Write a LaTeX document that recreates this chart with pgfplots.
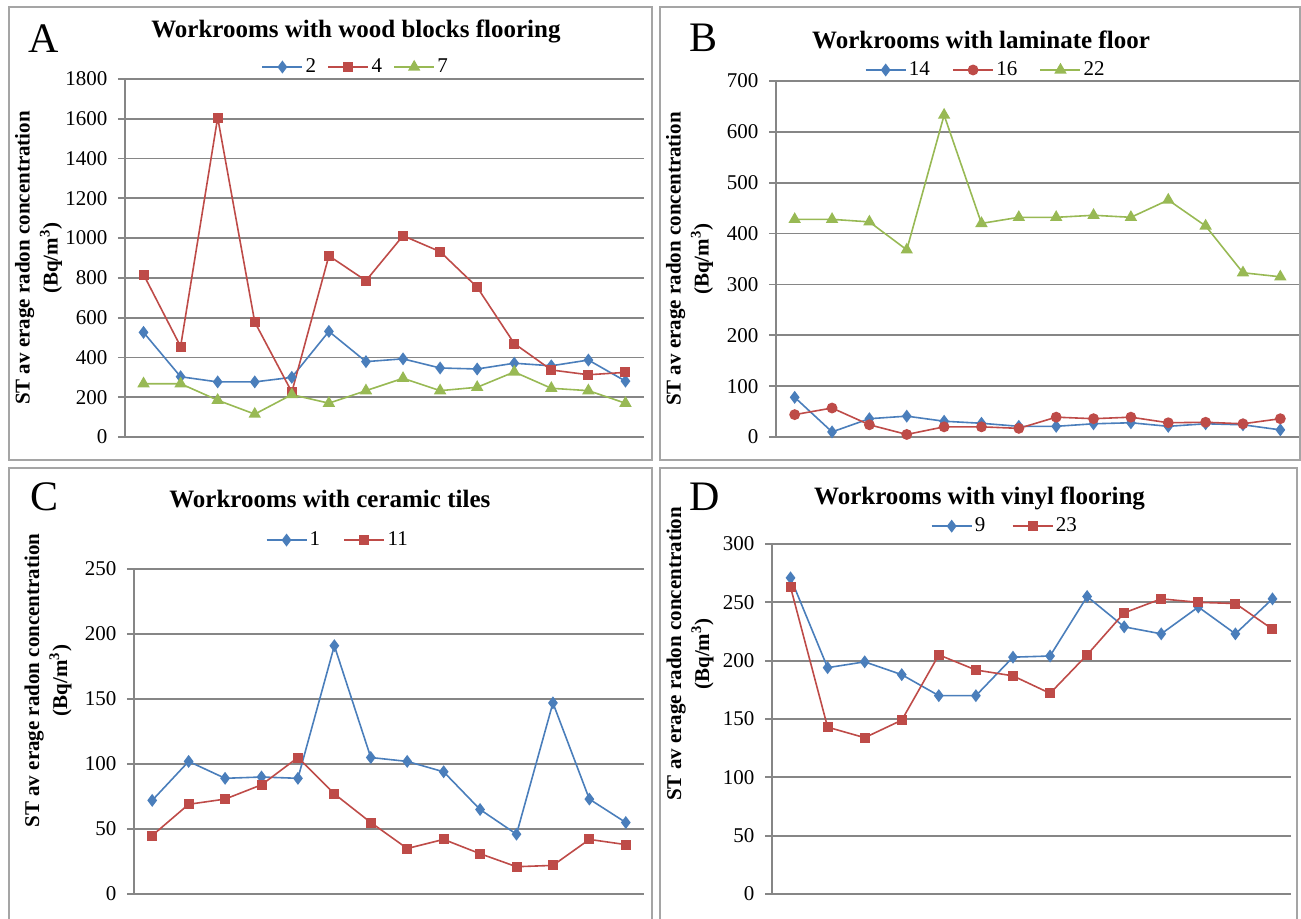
\documentclass[border=0pt]{standalone}
\usepackage{fontspec}
\setmainfont{Liberation Serif}
\usepackage{pgfplots}
\pgfplotsset{compat=1.18}
\usepackage{pgfplotstable}

\definecolor{xblue}{RGB}{74,126,187}
\definecolor{xred}{RGB}{190,75,72}
\definecolor{xgreen}{RGB}{152,185,84}
\definecolor{xgrid}{RGB}{134,134,134}
\definecolor{xframe}{RGB}{165,165,165}

\pgfplotstableread{
x s2 s4 s7
1 526 817 268
2 303 455 268
3 277 1606 185
4 277 578 115
5 300 226 213
6 531 911 170
7 379 786 233
8 393 1012 295
9 347 932 233
10 342 753 250
11 371 470 327
12 358 337 245
13 387 313 233
14 281 325 170
}\tabA
\pgfplotstableread{
x s14 s16 s22
1 78 44 428
2 10 57 428
3 36 24 423
4 41 5 368
5 31 20 633
6 27 20 420
7 21 17 432
8 21 39 432
9 26 36 436
10 28 39 432
11 21 28 466
12 26 29 415
13 24 26 323
14 14 36 315
}\tabB
\pgfplotstableread{
x s1 s11
1 72 45
2 102 69
3 89 73
4 90 84
5 89 105
6 191 77
7 105 55
8 102 35
9 94 42
10 65 31
11 46 21
12 147 22
13 73 42
14 55 38
}\tabC
\pgfplotstableread{
x s9 s23
1 271 263
2 194 143
3 199 134
4 188 149
5 170 205
6 170 192
7 203 187
8 204 172
9 255 205
10 229 241
11 223 253
12 246 250
13 223 249
14 253 227
}\tabD

\pgfplotsset{
 panel/.style={
  scale only axis, anchor=south west,
  xmin=0.5, xmax=14.5, xtick=\empty,
  ymin=0,
  axis x line=bottom, axis y line=left,
  axis line style={-, xgrid, line width=0.9pt},
  ymajorgrids, grid style={xgrid, line width=0.9pt},
  tick align=outside, major tick length=3.5pt,
  ytick style={xgrid, line width=0.9pt},
  tick label style={font=\fontsize{10.5}{12}\selectfont},
  yticklabel style={xshift=-1.8pt},
  /pgf/number format/assume math mode=true,
  /pgf/number format/1000 sep={},
  ylabel={ST av erage radon concentration\\(Bq/m\textsuperscript{3})},
  ylabel style={align=center, font=\bfseries\fontsize{10.5}{14}\selectfont, anchor=center},
  every axis title shift=0pt,
  title style={font=\bfseries\fontsize{12.5}{14}\selectfont, anchor=center},
  legend style={draw=none, fill=none, legend columns=-1, anchor=center,
    font=\fontsize{10.5}{12}\selectfont, inner sep=0pt, nodes={inner sep=1.2pt}},
  legend image code/.code={\draw[mark repeat=2,mark phase=2] plot coordinates {(0pt,0pt) (10pt,0pt) (20pt,0pt)};},
  every axis plot/.append style={line width=0.8pt},
  clip=false,
 },
 sb/.style={xblue, mark=diamond*, mark size=2.6pt, mark options={solid, fill=xblue}},
 sr/.style={xred, mark=square*, mark size=2.1pt, mark options={solid, fill=xred}},
 src/.style={xred, mark=*, mark size=2.3pt, mark options={solid, fill=xred}},
 sg/.style={xgreen, mark=triangle*, mark size=2.8pt, mark options={solid, fill=xgreen}},
}

\begin{document}
\begin{tikzpicture}
\useasboundingbox (0,0) rectangle (650.5pt,459pt);
% panel frames
\draw[xframe, line width=1pt] (4.5pt,229pt) rectangle (326pt,455.5pt);
\draw[xframe, line width=1pt] (330pt,229pt) rectangle (650pt,455.5pt);
\draw[xframe, line width=1pt] (4.5pt,-5pt) rectangle (326pt,225pt);
\draw[xframe, line width=1pt] (330pt,-5pt) rectangle (648.5pt,225pt);
% panel letters
\node[font=\fontsize{21}{24}\selectfont] at (22pt,439.5pt) {A};
\node[font=\fontsize{21}{24}\selectfont] at (351.5pt,440pt) {B};
\node[font=\fontsize{21}{24}\selectfont] at (22.5pt,210.5pt) {C};
\node[font=\fontsize{21}{24}\selectfont] at (352.5pt,210.5pt) {D};

% A
\begin{axis}[panel, at={(62.5pt,240.5pt)}, width=259.5pt, height=179pt,
  ymax=1800, ytick={0,200,...,1800},
  ylabel style={at={(axis description cs:-0.1667,0.5)}},
  title={Workrooms with wood blocks flooring},
  title style={at={(axis description cs:0.445,1.134)}},
  legend style={at={(axis description cs:0.445,1.0335)},
    /tikz/every even column/.append style={column sep=4.5pt}}]
\addplot[sb] table[x=x,y=s2] {\tabA};
\addlegendentry{2}
\addplot[sr] table[x=x,y=s4] {\tabA};
\addlegendentry{4}
\addplot[sg] table[x=x,y=s7] {\tabA};
\addlegendentry{7}
\end{axis}

% B
\begin{axis}[panel, at={(388pt,240.5pt)}, width=261.5pt, height=178pt,
  ymax=700, ytick={0,100,...,700},
  ylabel style={at={(axis description cs:-0.1654,0.5)}},
  title={Workrooms with laminate floor},
  title style={at={(axis description cs:0.392,1.115)}},
  legend style={at={(axis description cs:0.4015,1.031)},
    /tikz/every even column/.append style={column sep=10pt}}]
\addplot[sb] table[x=x,y=s14] {\tabB};
\addlegendentry{14}
\addplot[src] table[x=x,y=s16] {\tabB};
\addlegendentry{16}
\addplot[sg] table[x=x,y=s22] {\tabB};
\addlegendentry{22}
\end{axis}

% C
\begin{axis}[panel, at={(67pt,12pt)}, width=255pt, height=162.5pt,
  ymax=250, ytick={0,50,...,250},
  ylabel style={at={(axis description cs:-0.1686,0.657)}},
  title={Workrooms with ceramic tiles},
  title style={at={(axis description cs:0.384,1.215)}},
  legend style={at={(axis description cs:0.40,1.089)},
    /tikz/every even column/.append style={column sep=10.5pt}}]
\addplot[sb] table[x=x,y=s1] {\tabC};
\addlegendentry{1}
\addplot[sr] table[x=x,y=s11] {\tabC};
\addlegendentry{11}
\end{axis}

% D
\begin{axis}[panel, at={(386pt,12pt)}, width=259.5pt, height=175pt,
  ymax=300, ytick={0,50,...,300},
  ylabel style={at={(axis description cs:-0.158,0.686)}},
  title={Workrooms with vinyl flooring},
  title style={at={(axis description cs:0.40,1.129)}},
  legend style={at={(axis description cs:0.449,1.051)},
    /tikz/every even column/.append style={column sep=12pt}}]
\addplot[sb] table[x=x,y=s9] {\tabD};
\addlegendentry{9}
\addplot[sr] table[x=x,y=s23] {\tabD};
\addlegendentry{23}
\end{axis}
\end{tikzpicture}
\end{document}
